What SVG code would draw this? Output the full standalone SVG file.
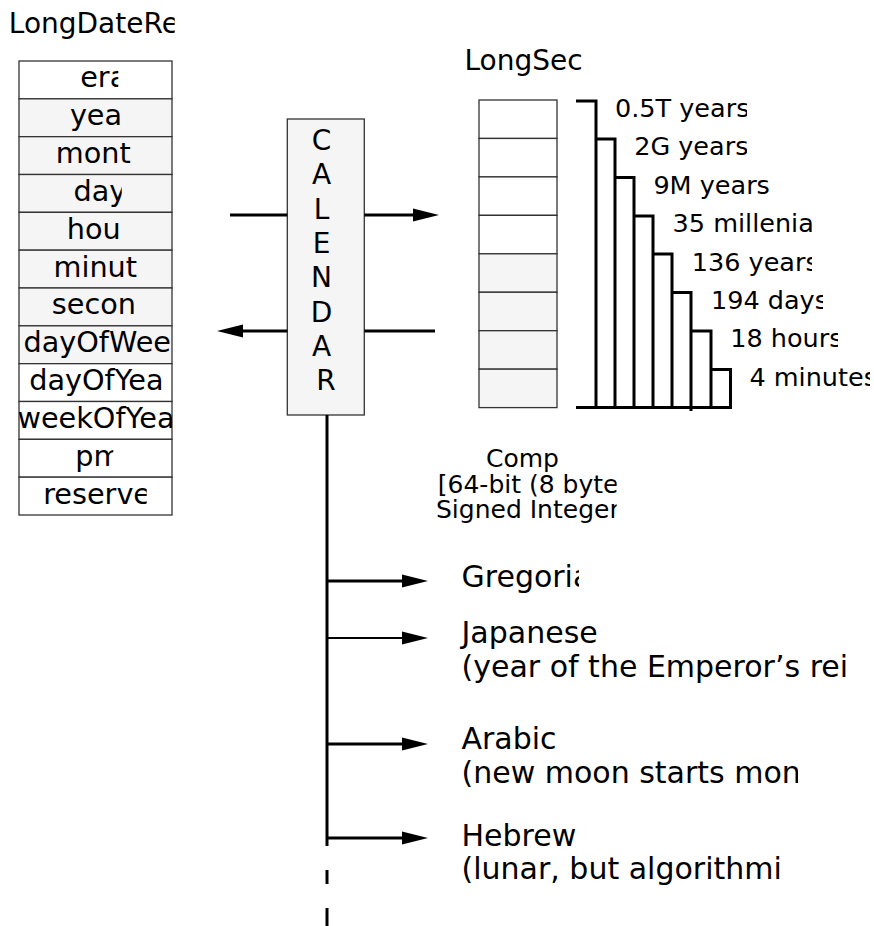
<svg xmlns="http://www.w3.org/2000/svg" width="874" height="926" viewBox="0 0 874 926">
  <style>
    text { font-family: "DejaVu Sans", "Liberation Sans", sans-serif; fill: #000; }
    .t28 { font-size: 28px; }
    .f29 { font-size: 28.7px; }
    .t30 { font-size: 30px; }
    .t25 { font-size: 25.5px; }
    .t24 { font-size: 25px; }
    .cell { stroke: #333; stroke-width: 1.3; }
    .white { fill: #fff; }
    .grey { fill: #f5f5f5; }
    .wire { stroke: #000; stroke-width: 3; fill: none; }
    .thin { stroke-width: 2; }
    .steps { stroke: #000; stroke-width: 3; fill: none; stroke-linejoin: miter; }
  </style>
  <defs>
    <marker id="head" markerUnits="userSpaceOnUse" markerWidth="26" markerHeight="14" viewBox="0 0 26 14" refX="1" refY="7" orient="auto">
      <path d="M0,0.5 L26,7 L0,13.5 z" fill="#000"/>
    </marker>
    <!-- clip regions for labels that overflow their boxes -->
    <clipPath id="cTitle"><rect x="0" y="0" width="174.7" height="50"/></clipPath>
    <clipPath id="cEra"><rect x="19" y="61" width="99.3" height="38"/></clipPath>
    <clipPath id="cYear"><rect x="19" y="99" width="102" height="38"/></clipPath>
    <clipPath id="cDay"><rect x="19" y="174" width="102.7" height="38"/></clipPath>
    <clipPath id="cDow"><rect x="19" y="325" width="153" height="38"/></clipPath>
    <clipPath id="cDoy"><rect x="19" y="363" width="147" height="38"/></clipPath>
    <clipPath id="cWoy"><rect x="19" y="401" width="153" height="38"/></clipPath>
    <clipPath id="cPm"><rect x="19" y="439" width="94.3" height="38"/></clipPath>
    <clipPath id="cRes"><rect x="19" y="477" width="127.7" height="38"/></clipPath>
    <clipPath id="cSec"><rect x="440" y="30" width="149" height="50"/></clipPath>
    <clipPath id="cS1"><rect x="600" y="90" width="147" height="38"/></clipPath>
    <clipPath id="cS2"><rect x="600" y="128" width="147" height="38"/></clipPath>
    <clipPath id="cS5"><rect x="680" y="244" width="132" height="38"/></clipPath>
    <clipPath id="cS6"><rect x="700" y="282" width="123" height="38"/></clipPath>
    <clipPath id="cS7"><rect x="720" y="320" width="118" height="38"/></clipPath>
    <clipPath id="cS8"><rect x="740" y="358" width="130" height="38"/></clipPath>
    <clipPath id="cComp"><rect x="420" y="440" width="196.7" height="90"/></clipPath>
    <clipPath id="cGreg"><rect x="440" y="560" width="139" height="40"/></clipPath>
    <clipPath id="cArab"><rect x="440" y="755" width="358" height="40"/></clipPath>
  </defs>

  <!-- record of broken-down date fields -->
  <g id="longDateRec">
    <text class="t28" x="8.8" y="32.7" clip-path="url(#cTitle)">LongDateRe</text>
    <rect class="cell white" x="19" y="61" width="153" height="37.83"/>
    <rect class="cell grey" x="19" y="98.83" width="153" height="37.83"/>
    <rect class="cell grey" x="19" y="136.67" width="153" height="37.83"/>
    <rect class="cell grey" x="19" y="174.5" width="153" height="37.83"/>
    <rect class="cell grey" x="19" y="212.33" width="153" height="37.83"/>
    <rect class="cell grey" x="19" y="250.17" width="153" height="37.83"/>
    <rect class="cell grey" x="19" y="288" width="153" height="37.83"/>
    <rect class="cell grey" x="19" y="325.83" width="153" height="37.83"/>
    <rect class="cell white" x="19" y="363.67" width="153" height="37.83"/>
    <rect class="cell white" x="19" y="401.5" width="153" height="37.83"/>
    <rect class="cell white" x="19" y="439.33" width="153" height="37.83"/>
    <rect class="cell white" x="19" y="477.17" width="153" height="37.83"/>
    <text class="f29" x="80.2" y="87.3" clip-path="url(#cEra)">era</text>
    <text class="f29" x="69.9" y="125.1" clip-path="url(#cYear)">yea</text>
    <text class="f29" x="55.8" y="163">mont</text>
    <text class="f29" x="73.5" y="200.8" clip-path="url(#cDay)">day</text>
    <text class="f29" x="66.8" y="238.6">hou</text>
    <text class="f29" x="53.5" y="276.5">minut</text>
    <text class="f29" x="51.8" y="314.3">secon</text>
    <text class="f29" x="23.5" y="352.1" clip-path="url(#cDow)">dayOfWee</text>
    <text class="f29" x="29.2" y="390" clip-path="url(#cDoy)">dayOfYea</text>
    <text class="f29" x="17.5" y="427.8" clip-path="url(#cWoy)">weekOfYea</text>
    <text class="f29" x="75.2" y="465.6" clip-path="url(#cPm)">pm</text>
    <text class="f29" x="43.2" y="503.5" clip-path="url(#cRes)">reserve</text>
  </g>

  <!-- calendar converter -->
  <g id="calendar">
    <rect x="287.3" y="119" width="77" height="296" fill="#f5f5f5" stroke="#333" stroke-width="1.3"/>
    <text class="t28" text-anchor="middle">
      <tspan x="326" y="150">C</tspan>
      <tspan x="326" y="184.3">A</tspan>
      <tspan x="326" y="218.6">L</tspan>
      <tspan x="326" y="252.9">E</tspan>
      <tspan x="326" y="287.2">N</tspan>
      <tspan x="326" y="321.5">D</tspan>
      <tspan x="326" y="355.8">A</tspan>
      <tspan x="326" y="390.1">R</tspan>
    </text>
  </g>

  <!-- 64-bit seconds value, one cell per byte -->
  <g id="longSeconds">
    <text class="t28" x="464.4" y="70" clip-path="url(#cSec)">LongSec</text>
    <rect class="cell white" x="479" y="100" width="78" height="38.45" stroke="#555"/>
    <rect class="cell white" x="479" y="138.45" width="78" height="38.45" stroke="#555"/>
    <rect class="cell white" x="479" y="176.9" width="78" height="38.45" stroke="#555"/>
    <rect class="cell white" x="479" y="215.35" width="78" height="38.45" stroke="#555"/>
    <rect class="cell grey" x="479" y="253.8" width="78" height="38.45" stroke="#555"/>
    <rect class="cell grey" x="479" y="292.25" width="78" height="38.45" stroke="#555"/>
    <rect class="cell grey" x="479" y="330.7" width="78" height="38.45" stroke="#555"/>
    <rect class="cell grey" x="479" y="369.15" width="78" height="38.45" stroke="#555"/>
  </g>

  <!-- range covered by each byte -->
  <g id="byteRanges">
    <path class="steps" d="M576,101 H596 V407.5 M596,139 H615 V407.5 M615,177.5 H634 V407.5 M634,216 H653 V407.5 M653,254 H672 V407.5 M672,292.5 H691 V411 M691,331 H711 V407.5 M711,369.5 H730.5 V407.5 M576,407.5 H732"/>
    <text class="t25" x="615" y="117" clip-path="url(#cS1)">0.5T years</text>
    <text class="t25" x="634.2" y="155.4" clip-path="url(#cS2)">2G years</text>
    <text class="t25" x="653.4" y="193.8">9M years</text>
    <text class="t25" x="672.6" y="232.2">35 millenia</text>
    <text class="t25" x="691.8" y="270.6" clip-path="url(#cS5)">136 years</text>
    <text class="t25" x="711" y="309" clip-path="url(#cS6)">194 days</text>
    <text class="t25" x="730.2" y="347.4" clip-path="url(#cS7)">18 hours</text>
    <text class="t25" x="749.4" y="385.8" clip-path="url(#cS8)">4 minutes</text>
  </g>

  <g id="compLabel" clip-path="url(#cComp)">
    <text class="t24" x="486" y="466.7">Comp</text>
    <text class="t24" x="437.8" y="492.5">[64-bit (8 byte</text>
    <text class="t24" x="436" y="517.5">Signed Integer</text>
  </g>

  <!-- calendar systems -->
  <g id="gregorian">
    <text class="t30" x="461.5" y="586.7" clip-path="url(#cGreg)">Gregoria</text>
  </g>
  <g id="japanese">
    <text class="t30" x="461.5" y="642.7">Japanese</text>
    <text class="t30" x="461.5" y="676.7">(year of the Emperor’s rei</text>
  </g>
  <g id="arabic">
    <text class="t30" x="461.5" y="749">Arabic</text>
    <text class="t30" x="461.5" y="783" clip-path="url(#cArab)">(new moon starts mon</text>
  </g>
  <g id="hebrew">
    <text class="t30" x="461.5" y="846">Hebrew</text>
    <text class="t30" x="461.5" y="879">(lunar, but algorithmi</text>
  </g>

  <g id="connectors">
    <!-- date record to seconds -->
    <line class="wire" x1="230" y1="215" x2="287.3" y2="215"/>
    <line class="wire" x1="364.3" y1="215" x2="414" y2="215" marker-end="url(#head)"/>
    <!-- seconds back to date record -->
    <line class="wire" x1="435" y1="331" x2="364.3" y2="331"/>
    <line class="wire" x1="287.3" y1="331" x2="242" y2="331" marker-end="url(#head)"/>
    <!-- trunk to the calendar systems -->
    <line class="wire" x1="327" y1="415" x2="327" y2="846"/>
    <line class="wire" x1="327" y1="870" x2="327" y2="884"/>
    <line class="wire" x1="327" y1="908" x2="327" y2="926"/>
    <line class="wire" x1="327" y1="581" x2="403" y2="581" marker-end="url(#head)"/>
    <line class="wire thin" x1="327" y1="638" x2="403" y2="638" marker-end="url(#head)"/>
    <line class="wire" x1="327" y1="744" x2="403" y2="744" marker-end="url(#head)"/>
    <line class="wire" x1="327" y1="838" x2="403" y2="838" marker-end="url(#head)"/>
  </g>
</svg>
